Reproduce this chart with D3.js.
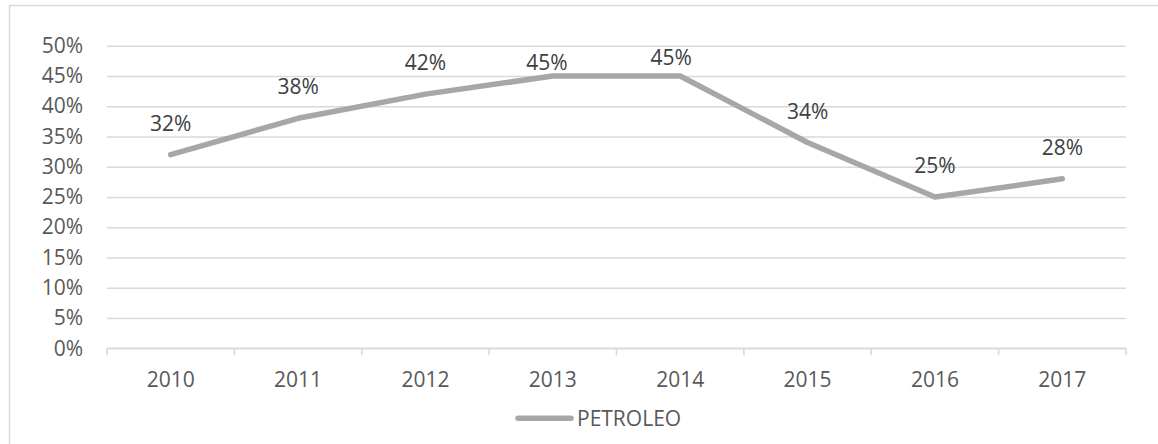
<!DOCTYPE html>
<html>
<head>
<meta charset="utf-8">
<script src="https://cdn.jsdelivr.net/npm/d3@7"></script>
<style>
  html, body { margin: 0; padding: 0; background: #fff; }
  svg { display: block; }
  text { font-family: "Open Sans", "Liberation Sans", sans-serif; }
</style>
</head>
<body>
<svg id="chart" width="1158" height="444"></svg>
<script>
// ---- data ----
const years = ["2010", "2011", "2012", "2013", "2014", "2015", "2016", "2017"];
const petroleo = [0.32, 0.38, 0.42, 0.45, 0.45, 0.34, 0.25, 0.28];
const yTicks = [0, 0.05, 0.10, 0.15, 0.20, 0.25, 0.30, 0.35, 0.40, 0.45, 0.50];
const seriesName = "PETROLEO";
// manual label nudges (px) as placed in the original chart
const labelNudge = [[0, 0], [0, 0], [0, 0], [-6, 18], [-9, 13], [0, 0], [0, 0], [0, 0]];

// ---- layout ----
const W = 1158, H = 444;
const FS = "21px";
const plot = { left: 107, right: 1126, top: 45.7, bottom: 348.3 };
const svg = d3.select("#chart");

// chart border
svg.append("rect")
  .attr("x", 9.5).attr("y", 5.5)
  .attr("width", W + 20).attr("height", H + 20)
  .attr("fill", "none").attr("stroke", "#D9D9D9").attr("stroke-width", 1.5);

const x = d3.scaleBand().domain(years).range([plot.left, plot.right]).padding(0);
const y = d3.scaleLinear().domain([0, 0.5]).range([plot.bottom, plot.top]);

// gridlines + y labels
const yAxis = d3.axisLeft(y).tickValues(yTicks)
  .tickFormat(d3.format(".0%"))
  .tickSize(-(plot.right - plot.left)).tickPadding(24);
const gy = svg.append("g").attr("transform", `translate(${plot.left},0)`).call(yAxis);
gy.select(".domain").remove();
gy.selectAll(".tick line").attr("stroke", "#D9D9D9").attr("stroke-width", 1.6);
gy.selectAll(".tick text").attr("fill", "#595959").attr("font-size", FS);

// x axis with boundary ticks
const gx = svg.append("g").attr("transform", `translate(0,${plot.bottom})`);
gx.append("line")
  .attr("x1", plot.left).attr("x2", plot.right)
  .attr("stroke", "#D9D9D9").attr("stroke-width", 1.6);
const bounds = years.map(d => x(d)).concat([x(years[years.length - 1]) + x.bandwidth()]);
gx.selectAll("line.bt").data(bounds).join("line").attr("class", "bt")
  .attr("x1", d => d).attr("x2", d => d).attr("y1", 0).attr("y2", 7)
  .attr("stroke", "#D9D9D9").attr("stroke-width", 1.6);
gx.selectAll("text").data(years).join("text")
  .attr("x", d => x(d) + x.bandwidth() / 2)
  .attr("y", 38.5)
  .attr("text-anchor", "middle")
  .attr("fill", "#595959").attr("font-size", FS)
  .text(d => d);

// line
const cx = d => x(d) + x.bandwidth() / 2;
const line = d3.line().x((d, i) => cx(years[i])).y(d => y(d));
svg.append("path").datum(petroleo)
  .attr("d", line)
  .attr("fill", "none").attr("stroke", "#A9A6A6")
  .attr("stroke-width", 5.5)
  .attr("stroke-linecap", "round").attr("stroke-linejoin", "round");

// data labels
svg.selectAll("text.lbl").data(petroleo).join("text").attr("class", "lbl")
  .attr("x", (d, i) => cx(years[i]) + labelNudge[i][0])
  .attr("y", (d, i) => y(d) - 24 + labelNudge[i][1])
  .attr("text-anchor", "middle")
  .attr("fill", "#404040").attr("font-size", FS)
  .text(d => d3.format(".0%")(d));

// legend
const lg = svg.append("g");
lg.append("line").attr("x1", 518).attr("x2", 571).attr("y1", 418.3).attr("y2", 418.3)
  .attr("stroke", "#A9A6A6").attr("stroke-width", 5.5).attr("stroke-linecap", "round");
lg.append("text").attr("x", 577).attr("y", 426)
  .attr("fill", "#595959").attr("font-size", FS).text(seriesName);
</script>
</body>
</html>
